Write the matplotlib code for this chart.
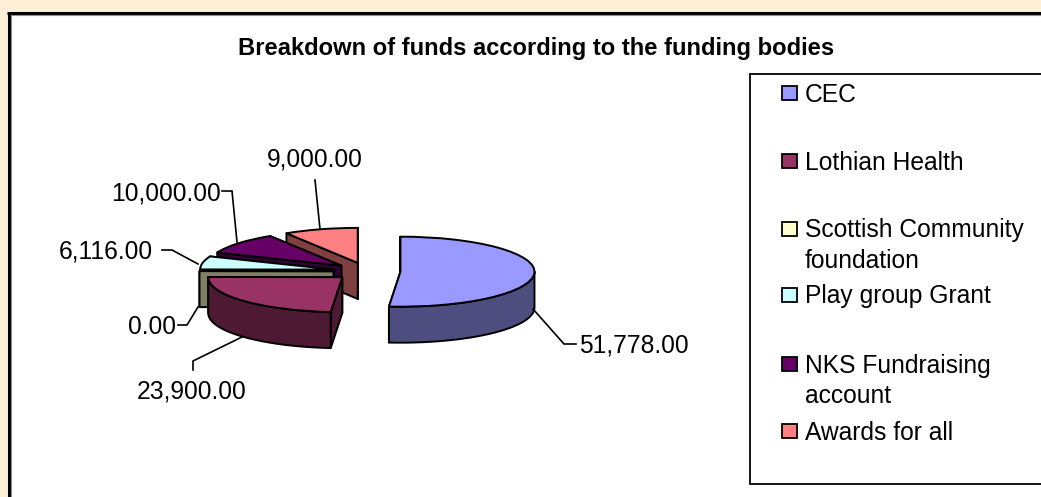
import numpy as np
import matplotlib
matplotlib.use("Agg")
import matplotlib.pyplot as plt
from matplotlib.patches import Polygon, Rectangle

# ---- data ----
categories = ["CEC", "Lothian Health", "Scottish Community\nfoundation",
              "Play group Grant", "NKS Fundraising\naccount", "Awards for all"]
values = [51778.00, 23900.00, 0.00, 6116.00, 10000.00, 9000.00]
value_labels = ["51,778.00", "23,900.00", "0.00", "6,116.00", "10,000.00", "9,000.00"]
title = "Breakdown of funds according to the funding bodies"

# ---- styles ----
top_colors = ["#9999FF", "#993366", "#FFFFCC", "#CCFFFF", "#660066", "#FF8080"]
wall_colors = ["#4D4D80", "#4D1933", "#808066", "#668080", "#330033", "#804040"]
draw_rank = [5, 4, 3, 2, 1, 0]   # back-to-front painter order per slice

W, H = 1041, 497
PIE_CX, PIE_CY = 367.0, 271.3    # pixel position of pie centre
RX, RY = 134.0, 35.0             # pixel radii of the ellipse
DEPTH = 36.0 / RY                # extrusion in data units
LW = 1.4

plt.rcParams["font.family"] = ["Liberation Sans", "DejaVu Sans"]
fig = plt.figure(figsize=(W / 100, H / 100), dpi=100, facecolor="white")

# ---- page background + panel (pixel coordinates) ----
bg = fig.add_axes([0, 0, 1, 1], zorder=0)
bg.set_xlim(0, W); bg.set_ylim(H, 0); bg.axis("off")
bg.add_patch(Rectangle((0, 0), W, H, fc="#FDF0D6", ec="none"))
bg.add_patch(Rectangle((9, 13), W, H, fc="white", ec="none"))
bg.plot([8.5, 8.5], [H, 12.5], color="black", lw=2.2, solid_capstyle="butt")
bg.plot([7, W], [12.5, 12.5], color="black", lw=2.2, solid_capstyle="butt")
bg.plot([10.5, 10.5], [H, 14.5], color="#909090", lw=0.8)
bg.plot([10.5, W], [14.5, 14.5], color="#909090", lw=0.8)

# ---- pie ----
ax = fig.add_axes([0, 0, 1, 1], zorder=1)
wedges, _ = ax.pie(values, startangle=90, counterclock=False, radius=1.0,
                   explode=[0.25] * len(values), colors=top_colors,
                   wedgeprops=dict(edgecolor="black", linewidth=LW, joinstyle="round"))
ax.set_aspect("auto")
ax.set_xlim(-PIE_CX / RX, (W - PIE_CX) / RX)
ax.set_ylim((PIE_CY - H) / RY, PIE_CY / RY)
ax.patch.set_alpha(0)


def rim(center, theta):
    t = np.radians(theta)
    return np.array([center[0] + np.cos(t), center[1] + np.sin(t)])


for i, w in enumerate(wedges):
    base = draw_rank[i] * 10
    c = np.array(w.center)
    down = np.array([0, -DEPTH])
    w.set_zorder(base + 3)
    kw = dict(fc=wall_colors[i], ec="black", lw=LW, joinstyle="round")
    # straight walls
    for th in (w.theta1, w.theta2):
        p = rim(c, th)
        ax.add_patch(Polygon([c, p, p + down, c + down], zorder=base + 1, **kw))
    # outer curved wall: only the part facing the viewer (180-360 deg)
    if w.theta2 > w.theta1:
        th1, th2 = w.theta1, w.theta2
        while th1 < 0:
            th1 += 360; th2 += 360
        a, b = max(th1, 180), min(th2, 360)
        if b > a:
            ts = np.linspace(a, b, 80)
            upper = np.array([rim(c, t) for t in ts])
            ax.add_patch(Polygon(np.vstack([upper, upper[::-1] + down]),
                                 zorder=base + 2, **kw))

# ---- annotations (pixel coordinates) ----
ov = fig.add_axes([0, 0, 1, 1], zorder=2)
ov.set_xlim(0, W); ov.set_ylim(H, 0); ov.axis("off"); ov.patch.set_alpha(0)

FS = 17.7
ov.text(536, 48.5, title, ha="center", va="center", fontsize=17.1, fontweight="bold")

label_pos = [(633.5, 346), (192, 392), (152, 327), (106, 252), (166, 193), (315, 160)]
leaders = [
    [(533, 309), (564, 344), (576, 344)],
    [(193, 370), (193, 361), (242, 337)],
    [(178, 325), (187, 325), (198, 307)],
    [(162, 250), (172, 250), (198, 264)],
    [(222, 191), (232, 191), (237, 242)],
    [(315, 180), (320, 229)],
]
for s, (x, y), pts in zip(value_labels, label_pos, leaders):
    ov.text(x, y, s, ha="center", va="center", fontsize=FS)
    xs, ys = zip(*pts)
    ov.plot(xs, ys, color="black", lw=1.2, solid_joinstyle="miter")

# ---- legend ----
ov.plot([W, 750, 750, W], [74, 74, 484, 484], color="black", lw=1.3, solid_joinstyle="miter")
legend_y = [93, 161, 229, 295, 364, 431]
for name, color, y in zip(categories, top_colors, legend_y):
    ov.add_patch(Rectangle((782, y - 7.5), 14.5, 14.5, fc=color, ec="black", lw=1.3))
    lines = name.split("\n")
    for k, line in enumerate(lines):
        ov.text(805, y + 1.5 + k * 30.5, line, ha="left", va="center", fontsize=FS)

fig.savefig("out.png", dpi=100)
